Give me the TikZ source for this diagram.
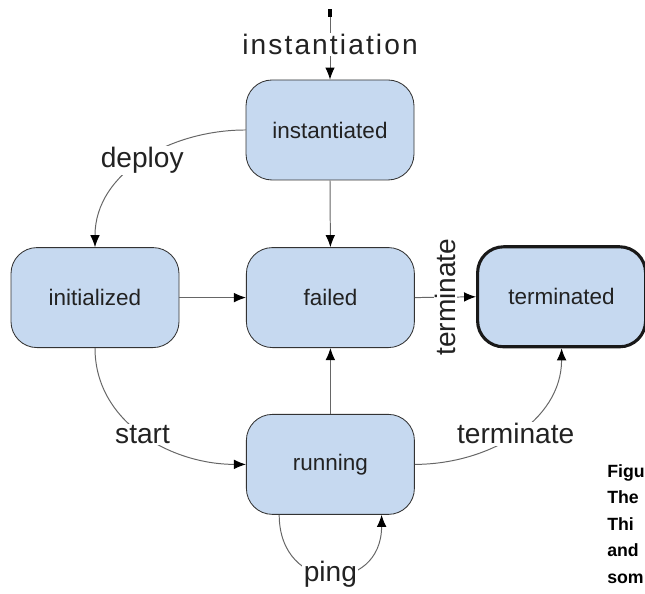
\documentclass[tikz,border=0pt]{standalone}
\usepackage{fontspec}
\setmainfont{Liberation Sans}
\newfontfamily\spacedfont[LetterSpace=7.5]{Liberation Sans}
\usetikzlibrary{arrows.meta, positioning, calc}
\usepackage{xcolor}
\definecolor{statefill}{RGB}{198,217,240}
\definecolor{ink}{RGB}{34,34,34}
\tikzset{
  state/.style = {draw=black!80, line width=0.6pt, fill=statefill,
                  rounded corners=0.65cm, minimum width=4.2cm,
                  minimum height=2.5cm, align=center, text=ink,
                  font=\fontsize{16}{19}\selectfont},
  final/.style = {state, draw=black!90, line width=2.2pt},
  lbl/.style   = {fill=white, text=ink, inner sep=1pt,
                  font=\fontsize{20}{24}\selectfont},
  flow/.style  = {-{Latex[length=3mm, width=2.4mm, black]}, line width=0.7pt,
                  draw=black!60},
  capt/.style  = {align=left, inner sep=0pt, text=black,
                  font=\fontsize{12.6}{18.75}\selectfont\bfseries}
}
\begin{document}
\begin{tikzpicture}
\useasboundingbox (0,0) rectangle (16.125,14.85);

\node[state] at ( 8.25 , 11.6 ) (inst) {instantiated};
\node[state] at ( 2.375,  7.41) (init) {initialized};
\node[state] at ( 8.26 ,  7.41) (fail) {failed};
\node[final] at (14.04 ,  7.43) (term) {terminated};
\node[state] at ( 8.26 ,  3.24) (run)  {running};
\coordinate (start) at (8.25, 14.625);

\node[capt, anchor=west] at (15.175, 1.75) (caption) {Figu\\The\\Thi\\and\\som};

\draw[flow, {Rectangle[length=2mm, width=1.1mm, black]}-{Latex[length=3mm, width=2.4mm, black]}]
      (start) -- node[lbl, font=\fontsize{20}{24}\spacedfont] {instantiation} (inst.north);
\draw[flow] (inst.west) to[out=180, in=90] node[lbl] {deploy} (init.north);
\draw[flow] (inst.south) -- (fail.north);
\draw[flow] (init.east) -- (fail.west);
\draw[flow] (init.south) to[out=-90, in=180] node[lbl] {start} (run.west);
\draw[flow] (run.north) -- (fail.south);
\draw[flow] (fail.east) -- node[lbl, rotate=90] {terminate} (term.west);
\draw[flow] (run.east) to[out=0, in=-90] node[lbl] {terminate} (term.south);
\draw[flow] ([xshift=-1.28cm]run.south) to[out=-90, in=-90, looseness=2]
      node[lbl] {ping} ([xshift=1.28cm]run.south);
\end{tikzpicture}
\end{document}
